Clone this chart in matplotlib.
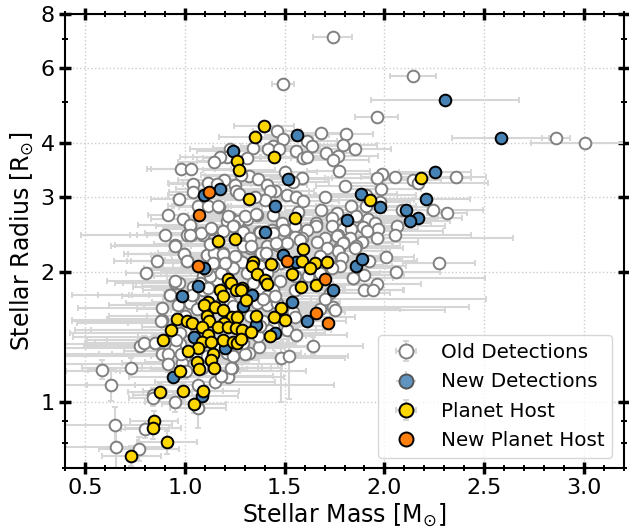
import matplotlib
matplotlib.use('Agg')
import matplotlib.pyplot as plt
from matplotlib.ticker import FixedLocator, FixedFormatter, MultipleLocator

# Old detections
old_mass = [
    1.74, 1.49, 2.145, 1.962, 1.807, 2.858, 3.003, 1.46, 1.493, 1.683,
    1.61, 1.638, 1.793, 1.855, 1.34, 1.443, 1.418, 1.47, 1.555, 1.227,
    1.705, 1.768, 1.743, 1.593, 1.612, 1.31, 1.21, 1.177, 1.148, 0.982,
    1.032, 1.77, 1.502, 1.588, 1.543, 1.322, 1.368, 1.197, 1.28, 1.41,
    1.04, 1.118, 1.163, 1.252, 1.805, 1.255, 1.273, 1.043, 1.452, 1.427,
    1.513, 1.557, 1.592, 1.702, 0.97, 1.402, 1.352, 1.065, 1.115, 1.17,
    0.915, 0.993, 1.68, 1.76, 1.835, 1.443, 1.36, 1.568, 1.227, 1.31,
    1.21, 1.268, 1.485, 1.655, 1.735, 1.86, 1.655, 1.248, 1.027, 1.13,
    1.19, 1.293, 1.497, 1.435, 1.55, 1.61, 1.735, 1.793, 1.835, 0.902,
    1.01, 1.03, 1.09, 1.373, 1.585, 1.552, 1.702, 1.827, 1.987, 2.053,
    2.357, 1.962, 2.145, 2.17, 1.982, 1.907, 1.98, 1.907, 2.087, 2.245,
    2.312, 1.92, 1.953, 2.062, 1.895, 1.967, 1.912, 2.053, 1.965, 1.887,
    1.765, 2.275, 2.06, 2.008, 1.963, 1.897, 1.842, 1.897, 1.942, 1.783,
    1.772, 1.925, 1.86, 1.79, 1.77, 0.952, 0.998, 1.01, 0.863, 0.805,
    0.952, 0.973, 0.927, 1.043, 1.118, 1.16, 1.11, 1.152, 1.193, 1.16,
    1.218, 1.26, 1.243, 1.285, 1.327, 1.377, 1.41, 1.46, 1.51, 1.577,
    1.66, 1.76, 1.793, 1.852, 1.768, 1.71, 1.677, 1.785, 1.777, 1.735,
    1.843, 1.677, 1.477, 1.443, 1.193, 1.16, 1.093, 1.31, 1.377, 1.477,
    1.443, 1.55, 1.617, 1.727, 1.55, 1.743, 1.752, 1.543, 1.552, 1.51,
    1.555, 1.643, 1.677, 1.443, 1.418, 1.48, 1.52, 1.372, 1.323, 1.302,
    1.24, 1.238, 1.218, 1.15, 1.182, 1.068, 1.068, 0.952, 0.843, 0.843,
    0.802, 0.648, 0.655, 0.77, 0.63, 0.583, 0.733, 0.777, 0.798, 0.852,
    0.885, 0.887, 0.96, 0.977, 0.952, 0.885, 0.918, 0.918, 1.0, 0.985,
    1.005, 1.06, 1.11, 1.085, 1.16, 1.21, 1.293, 1.368, 1.393, 1.41,
    0.968, 1.027, 1.002, 1.06, 0.96, 1.002, 0.977, 1.227, 1.377, 1.36,
    1.41, 1.46, 1.477, 1.077, 1.043, 1.127, 1.21, 1.41, 1.343, 1.093,
    1.143, 1.243, 1.327, 1.377, 1.025, 1.083, 1.13, 1.167, 1.025, 0.95,
    0.997, 1.012, 1.112, 1.145, 1.192, 1.125, 1.217, 1.30, 1.355, 1.242,
    1.292, 1.325, 1.375, 1.442, 1.292, 1.333, 1.25, 1.383, 1.242, 1.183,
    0.95, 0.925, 1.038, 1.117, 1.108, 1.142, 1.2, 1.458, 1.408, 1.39,
    1.45, 0.883, 0.958, 0.983, 1.242, 1.233, 1.70,
]
old_radius = [
    7.07, 5.50, 5.75, 4.61, 4.20, 4.12, 4.01, 4.28, 4.08, 4.23,
    4.05, 3.95, 3.96, 3.88, 3.89, 3.95, 3.87, 3.88, 3.84, 3.88,
    3.79, 3.73, 3.66, 3.70, 3.71, 3.70, 3.72, 3.71, 3.61, 3.48,
    3.48, 3.45, 3.43, 3.32, 3.25, 3.35, 3.30, 3.28, 3.38, 3.20,
    3.21, 3.23, 3.22, 3.20, 3.18, 3.10, 3.05, 3.07, 3.10, 3.10,
    3.03, 2.99, 2.93, 3.00, 2.96, 2.95, 3.00, 2.86, 2.86, 2.84,
    2.72, 2.67, 2.79, 2.75, 2.85, 2.72, 2.72, 2.76, 2.69, 2.66,
    2.63, 2.64, 2.60, 2.61, 2.68, 2.71, 2.56, 2.56, 2.56, 2.53,
    2.50, 2.49, 2.51, 2.51, 2.56, 2.51, 2.56, 2.52, 2.52, 2.44,
    2.45, 2.44, 2.45, 2.48, 2.40, 2.42, 2.40, 2.41, 3.39, 3.33,
    3.33, 3.32, 3.29, 3.23, 3.13, 3.03, 2.92, 2.86, 2.80, 2.79,
    2.75, 2.67, 2.60, 2.57, 2.55, 2.53, 2.50, 2.44, 2.40, 2.36,
    2.44, 2.10, 2.00, 2.17, 1.88, 1.97, 1.94, 1.82, 1.82, 2.16,
    2.08, 2.13, 2.30, 2.35, 2.28, 2.31, 2.21, 2.13, 2.12, 1.99,
    1.89, 1.89, 1.77, 1.77, 1.84, 1.92, 2.19, 2.14, 2.22, 2.22,
    2.14, 2.16, 2.05, 2.11, 2.28, 2.20, 2.30, 2.32, 2.34, 2.38,
    2.36, 2.43, 2.34, 2.28, 2.24, 2.28, 2.18, 2.16, 2.07, 2.05,
    1.94, 1.99, 2.10, 2.07, 2.05, 2.01, 1.96, 1.99, 2.07, 1.91,
    1.82, 1.96, 1.96, 1.79, 1.82, 1.66, 1.63, 1.62, 1.57, 1.47,
    1.43, 1.35, 1.64, 1.50, 1.47, 1.26, 1.275, 1.34, 1.30, 1.29,
    1.275, 1.196, 1.14, 1.11, 1.146, 1.09, 0.966, 0.995, 1.038, 1.018,
    0.861, 0.883, 0.783, 0.777, 1.094, 1.187, 1.20, 1.345, 1.37, 1.37,
    1.65, 1.55, 1.41, 1.36, 1.33, 1.29, 1.29, 1.224, 1.275, 1.23,
    1.18, 1.29, 1.275, 1.20, 1.345, 1.30, 1.37, 1.42, 1.54, 1.68,
    1.68, 1.70, 1.58, 1.64, 1.52, 1.47, 1.445, 1.71, 1.84, 1.70,
    1.76, 1.70, 1.61, 1.89, 1.85, 1.96, 1.99, 1.99, 1.89, 1.82,
    1.77, 1.67, 1.58, 1.50, 2.58, 2.47, 2.54, 2.85, 2.44, 2.30,
    2.21, 2.12, 2.19, 2.22, 2.21, 2.33, 2.70, 2.70, 2.73, 2.57,
    2.49, 2.41, 2.49, 2.47, 2.30, 2.30, 2.18, 2.22, 2.05, 1.99,
    1.91, 1.77, 1.77, 1.84, 2.03, 2.10, 2.10, 2.34, 2.22, 1.73,
    1.76, 1.54, 1.39, 1.29, 1.28, 1.20, 1.73,
]
old_xerr = [
    0.10, 0.055, 0.115, 0.108, 0.135, 0.07, 0.27, 0.12, 0.15, 0.13,
    0.15, 0.14, 0.17, 0.18, 0.20, 0.16, 0.15, 0.17, 0.15, 0.20,
    0.17, 0.20, 0.18, 0.14, 0.16, 0.22, 0.17, 0.20, 0.18, 0.17,
    0.20, 0.16, 0.16, 0.15, 0.18, 0.22, 0.20, 0.23, 0.20, 0.20,
    0.12, 0.20, 0.17, 0.22, 0.15, 0.20, 0.18, 0.12, 0.17, 0.22,
    0.20, 0.16, 0.18, 0.17, 0.14, 0.20, 0.22, 0.15, 0.18, 0.20,
    0.10, 0.16, 0.18, 0.20, 0.16, 0.20, 0.22, 0.18, 0.25, 0.20,
    0.22, 0.20, 0.22, 0.24, 0.25, 0.22, 0.20, 0.25, 0.17, 0.22,
    0.20, 0.24, 0.20, 0.22, 0.24, 0.26, 0.18, 0.20, 0.25, 0.42,
    0.25, 0.22, 0.20, 0.24, 0.26, 0.24, 0.22, 0.25, 0.20, 0.17,
    0.15, 0.26, 0.14, 0.35, 0.20, 0.25, 0.15, 0.25, 0.22, 0.25,
    0.10, 0.35, 0.28, 0.24, 0.20, 0.20, 0.38, 0.38, 0.68, 0.28,
    0.30, 0.18, 0.22, 0.14, 0.22, 0.20, 0.66, 0.20, 0.15, 0.25,
    0.22, 0.24, 0.22, 0.25, 0.24, 0.30, 0.28, 0.30, 0.22, 0.10,
    0.30, 0.28, 0.49, 0.32, 0.28, 0.25, 0.28, 0.25, 0.26, 0.24,
    0.28, 0.26, 0.30, 0.28, 0.22, 0.24, 0.26, 0.22, 0.25, 0.28,
    0.25, 0.22, 0.25, 0.24, 0.26, 0.28, 0.30, 0.22, 0.26, 0.30,
    0.20, 0.30, 0.25, 0.28, 0.30, 0.28, 0.30, 0.28, 0.26, 0.22,
    0.26, 0.24, 0.28, 0.30, 0.25, 0.68, 0.55, 0.26, 0.30, 0.22,
    0.26, 0.25, 0.40, 0.25, 0.24, 0.32, 0.30, 0.24, 0.26, 0.28,
    0.30, 0.25, 0.28, 0.30, 0.26, 0.68, 0.14, 0.15, 0.10, 0.12,
    0.12, 0.29, 0.28, 0.20, 0.12, 0.07, 0.25, 0.28, 0.30, 0.30,
    0.42, 0.45, 0.52, 0.58, 0.55, 0.50, 0.35, 0.55, 0.60, 0.30,
    0.60, 0.30, 0.28, 0.30, 0.26, 0.24, 0.25, 0.24, 0.25, 0.30,
    0.35, 0.32, 0.38, 0.30, 0.50, 0.55, 0.55, 0.30, 0.28, 0.30,
    0.26, 0.28, 0.25, 0.32, 0.30, 0.28, 0.30, 0.28, 0.26, 0.30,
    0.32, 0.28, 0.26, 0.24, 0.26, 0.28, 0.24, 0.22, 0.30, 0.32,
    0.30, 0.28, 0.26, 0.28, 0.26, 0.28, 0.24, 0.22, 0.24, 0.26,
    0.22, 0.24, 0.22, 0.24, 0.26, 0.22, 0.24, 0.22, 0.26, 0.30,
    0.34, 0.36, 0.30, 0.28, 0.30, 0.28, 0.26, 0.22, 0.24, 0.24,
    0.22, 0.45, 0.35, 0.35, 0.22, 0.20, 0.81,
]
old_yerr = [
    0.10, 0.12, 0.10, 0.10, 0.10, 0.08, 0.09, 0.10, 0.09, 0.09,
    0.09, 0.09, 0.09, 0.09, 0.10, 0.09, 0.09, 0.09, 0.09, 0.09,
    0.08, 0.08, 0.08, 0.08, 0.08, 0.08, 0.08, 0.08, 0.08, 0.08,
    0.08, 0.08, 0.08, 0.08, 0.08, 0.08, 0.08, 0.08, 0.08, 0.07,
    0.07, 0.07, 0.07, 0.07, 0.07, 0.07, 0.07, 0.07, 0.07, 0.07,
    0.07, 0.07, 0.07, 0.07, 0.07, 0.07, 0.07, 0.07, 0.07, 0.07,
    0.07, 0.07, 0.07, 0.07, 0.07, 0.07, 0.07, 0.07, 0.07, 0.07,
    0.06, 0.06, 0.06, 0.06, 0.06, 0.06, 0.06, 0.06, 0.06, 0.06,
    0.06, 0.06, 0.06, 0.06, 0.06, 0.06, 0.06, 0.06, 0.06, 0.06,
    0.06, 0.06, 0.06, 0.06, 0.06, 0.06, 0.06, 0.06, 0.08, 0.08,
    0.08, 0.08, 0.08, 0.08, 0.08, 0.07, 0.07, 0.07, 0.07, 0.07,
    0.07, 0.07, 0.07, 0.06, 0.06, 0.06, 0.06, 0.06, 0.06, 0.06,
    0.06, 0.06, 0.05, 0.05, 0.05, 0.05, 0.05, 0.05, 0.05, 0.05,
    0.05, 0.05, 0.05, 0.06, 0.05, 0.06, 0.05, 0.05, 0.05, 0.05,
    0.05, 0.05, 0.05, 0.05, 0.05, 0.05, 0.05, 0.05, 0.05, 0.05,
    0.05, 0.05, 0.05, 0.05, 0.05, 0.05, 0.05, 0.05, 0.05, 0.05,
    0.05, 0.05, 0.05, 0.05, 0.05, 0.05, 0.05, 0.05, 0.05, 0.05,
    0.05, 0.05, 0.05, 0.05, 0.05, 0.05, 0.05, 0.05, 0.05, 0.05,
    0.05, 0.05, 0.05, 0.05, 0.05, 0.05, 0.05, 0.05, 0.05, 0.05,
    0.05, 0.06, 0.05, 0.05, 0.05, 0.26, 0.26, 0.05, 0.05, 0.05,
    0.05, 0.05, 0.05, 0.05, 0.05, 0.06, 0.10, 0.05, 0.04, 0.04,
    0.04, 0.09, 0.10, 0.05, 0.09, 0.06, 0.06, 0.05, 0.05, 0.05,
    0.05, 0.05, 0.05, 0.05, 0.05, 0.05, 0.05, 0.05, 0.05, 0.05,
    0.05, 0.05, 0.05, 0.05, 0.05, 0.05, 0.05, 0.05, 0.05, 0.05,
    0.05, 0.05, 0.05, 0.05, 0.05, 0.05, 0.05, 0.05, 0.05, 0.05,
    0.05, 0.05, 0.05, 0.05, 0.05, 0.05, 0.05, 0.05, 0.05, 0.05,
    0.05, 0.05, 0.05, 0.05, 0.05, 0.05, 0.05, 0.05, 0.05, 0.05,
    0.05, 0.05, 0.05, 0.05, 0.05, 0.05, 0.05, 0.05, 0.05, 0.05,
    0.05, 0.05, 0.05, 0.05, 0.05, 0.05, 0.05, 0.05, 0.05, 0.05,
    0.05, 0.05, 0.05, 0.05, 0.05, 0.05, 0.05, 0.05, 0.05, 0.05,
    0.05, 0.05, 0.05, 0.05, 0.05, 0.05, 0.05,
]

# New detections
new_mass = [
    1.243, 1.56, 1.518, 1.177, 1.097, 1.452, 1.815, 1.402, 2.303, 2.583,
    2.255, 2.208, 1.885, 1.977, 2.108, 2.168, 2.128, 1.49, 1.557, 1.097,
    1.743, 1.858, 1.068, 0.988, 1.335, 1.29, 1.537, 1.61, 1.453, 1.355,
    1.047, 1.202, 0.942, 1.088, 1.89,
]
new_radius = [
    3.84, 4.17, 3.30, 3.13, 3.03, 2.85, 2.65, 2.48, 5.05, 4.11,
    3.42, 2.97, 3.04, 2.84, 2.79, 2.68, 2.63, 2.19, 2.11, 2.05,
    1.82, 2.07, 1.86, 1.76, 1.77, 1.67, 1.71, 1.54, 1.445, 1.51,
    1.41, 1.33, 1.14, 1.03, 2.15,
]
new_xerr = [
    0.18, 0.16, 0.20, 0.22, 0.18, 0.22, 0.30, 0.22, 0.37, 0.243,
    0.18, 0.22, 0.18, 0.24, 0.20, 0.22, 0.20, 0.24, 0.22, 0.30,
    0.22, 0.25, 0.28, 0.30, 0.25, 0.30, 0.24, 0.20, 0.25, 0.22,
    0.28, 0.24, 0.22, 0.18, 0.20,
]
new_yerr = [
    0.08, 0.08, 0.07, 0.07, 0.07, 0.07, 0.06, 0.06, 0.10, 0.09,
    0.08, 0.07, 0.07, 0.07, 0.06, 0.06, 0.06, 0.05, 0.05, 0.05,
    0.05, 0.05, 0.05, 0.05, 0.05, 0.05, 0.05, 0.05, 0.05, 0.05,
    0.05, 0.05, 0.05, 0.05, 0.05,
]

# Planet hosts
host_mass = [
    1.395, 1.352, 1.447, 1.26, 1.273, 1.32, 1.553, 1.168, 1.252, 1.593,
    1.34, 1.432, 1.585, 1.653, 1.713, 1.627, 1.335, 1.363, 1.537, 1.402,
    1.41, 1.582, 1.657, 1.215, 1.233, 1.255, 1.285, 1.28, 1.178, 1.19,
    1.307, 1.118, 1.098, 1.152, 1.19, 1.483, 1.355, 1.448, 1.503, 0.96,
    1.01, 1.037, 1.11, 1.12, 1.235, 1.263, 1.198, 1.085, 1.165, 1.218,
    1.255, 1.288, 1.33, 1.427, 0.93, 0.89, 1.118, 1.193, 1.085, 1.132,
    1.243, 1.26, 1.282, 1.067, 1.018, 1.143, 1.132, 1.062, 1.073, 1.148,
    0.977, 0.992, 0.877, 1.093, 1.048, 0.848, 0.843, 0.912, 0.733, 2.183,
    1.927,
]
host_radius = [
    4.39, 4.14, 3.71, 3.64, 3.47, 2.96, 2.68, 2.37, 2.39, 2.27,
    2.11, 2.09, 2.13, 2.10, 2.11, 2.05, 2.07, 1.98, 1.98, 1.92,
    1.88, 1.85, 1.87, 1.93, 1.89, 1.82, 1.84, 1.82, 1.82, 1.76,
    1.72, 1.71, 1.68, 1.66, 1.63, 1.655, 1.585, 1.575, 1.55, 1.555,
    1.54, 1.52, 1.585, 1.54, 1.575, 1.57, 1.52, 1.49, 1.49, 1.49,
    1.48, 1.47, 1.455, 1.42, 1.47, 1.39, 1.43, 1.39, 1.38, 1.38,
    1.38, 1.37, 1.40, 1.33, 1.31, 1.29, 1.25, 1.235, 1.19, 1.20,
    1.18, 1.057, 1.05, 1.06, 0.988, 0.90, 0.868, 0.806, 0.746, 3.32,
    2.95,
]
host_xerr = [
    0.15, 0.18, 0.18, 0.20, 0.18, 0.20, 0.20, 0.24, 0.22, 0.20,
    0.24, 0.22, 0.20, 0.20, 0.22, 0.20, 0.24, 0.22, 0.20, 0.24,
    0.22, 0.22, 0.22, 0.28, 0.25, 0.26, 0.24, 0.24, 0.28, 0.26,
    0.24, 0.28, 0.30, 0.28, 0.26, 0.22, 0.25, 0.22, 0.22, 0.35,
    0.32, 0.32, 0.30, 0.28, 0.26, 0.26, 0.28, 0.30, 0.28, 0.26,
    0.26, 0.25, 0.24, 0.22, 0.40, 0.38, 0.28, 0.26, 0.30, 0.28,
    0.25, 0.25, 0.24, 0.30, 0.32, 0.24, 0.24, 0.26, 0.24, 0.22,
    0.30, 0.20, 0.16, 0.18, 0.16, 0.12, 0.14, 0.15, 0.15, 0.25,
    0.22,
]
host_yerr = [
    0.09, 0.09, 0.08, 0.08, 0.08, 0.07, 0.06, 0.06, 0.06, 0.05,
    0.05, 0.05, 0.05, 0.05, 0.05, 0.05, 0.05, 0.05, 0.05, 0.05,
    0.05, 0.05, 0.05, 0.05, 0.05, 0.05, 0.05, 0.05, 0.05, 0.05,
    0.05, 0.05, 0.05, 0.05, 0.05, 0.05, 0.05, 0.05, 0.05, 0.05,
    0.05, 0.05, 0.05, 0.05, 0.05, 0.05, 0.05, 0.05, 0.05, 0.05,
    0.05, 0.05, 0.05, 0.05, 0.05, 0.05, 0.05, 0.05, 0.05, 0.05,
    0.05, 0.05, 0.05, 0.05, 0.05, 0.05, 0.05, 0.05, 0.05, 0.05,
    0.05, 0.05, 0.05, 0.05, 0.05, 0.05, 0.05, 0.05, 0.04, 0.08,
    0.07,
]

# New planet hosts
newhost_mass = [1.123, 1.07, 1.067, 1.51, 1.702, 1.655, 1.715]
newhost_radius = [3.08, 2.72, 2.07, 2.12, 1.93, 1.61, 1.52]

fig = plt.figure(figsize=(6.29, 5.29), dpi=100)
ax = fig.add_axes([65 / 629, 1 - 468 / 529, 559 / 629, 454 / 529])

err_style = dict(fmt='o', ms=8.4, ecolor='#d6d6d6', elinewidth=1.5, capsize=2.5, capthick=1.5)


def draw_series(x, y, xerr, yerr, fill, edge, name, z):
    # error bars stay behind every marker, like in the reference
    cont = ax.errorbar(x, y, xerr=xerr, yerr=yerr, mfc=fill, mec=edge, mew=1.4, label=name, **err_style)
    cont[0].set_zorder(z)
    for part in list(cont[1]) + list(cont[2]):
        part.set_zorder(2)
    return cont


h_old = draw_series(old_mass, old_radius, old_xerr, old_yerr, 'white', '#808080', 'Old Detections', 3)
draw_series(new_mass, new_radius, new_xerr, new_yerr, '#4682b4', 'black', None, 4)
h_host = draw_series(host_mass, host_radius, host_xerr, host_yerr, '#ffd700', 'black', 'Planet Host', 5)
h_newhost, = ax.plot(newhost_mass, newhost_radius, 'o', ms=8.4, mfc='#ff7f0e', mec='black', mew=1.4,
                     label='New Planet Host', zorder=6)

# the blue legend marker is paler than the points in the reference
h_new = ax.errorbar([], [], xerr=[], yerr=[], mfc='#5f93c0', mec='#555555', mew=1.4,
                    label='New Detections', **err_style)

# Axes
ax.set_yscale('log')
ax.set_xlim(0.4, 3.2)
ax.set_ylim(0.7, 8)
ax.xaxis.set_major_locator(MultipleLocator(0.5))
ax.xaxis.set_minor_locator(MultipleLocator(0.1))
ax.yaxis.set_major_locator(FixedLocator([1, 2, 3, 4, 6, 8]))
ax.yaxis.set_major_formatter(FixedFormatter(['1', '2', '3', '4', '6', '8']))
ax.yaxis.set_minor_locator(FixedLocator([0.7, 0.8, 0.9, 5, 7]))
ax.yaxis.set_minor_formatter(FixedFormatter(['', '', '', '', '']))
ax.tick_params(which='major', direction='inout', top=True, right=True, length=8, width=2.5, labelsize=16)
ax.tick_params(which='minor', direction='inout', top=True, right=True, length=5, width=1.4)
for spine in ax.spines.values():
    spine.set_linewidth(1.5)
ax.grid(True, which='major', linestyle=':', color='#cccccc', linewidth=1, zorder=0)
ax.set_axisbelow(True)

ax.set_xlabel(r'Stellar Mass [M$_{\odot}$]', fontsize=17, labelpad=2.5)
ax.set_ylabel(r'Stellar Radius [R$_{\odot}$]', fontsize=17, labelpad=3)

ax.legend(handles=[h_old, h_new, h_host, h_newhost], loc='lower right', bbox_to_anchor=(0.997, 0.0),
          fontsize=14.3, labelspacing=0.52, handletextpad=0.75, markerscale=1.2,
          framealpha=0.8).set_zorder(10)

plt.savefig('out.png', dpi=100)
